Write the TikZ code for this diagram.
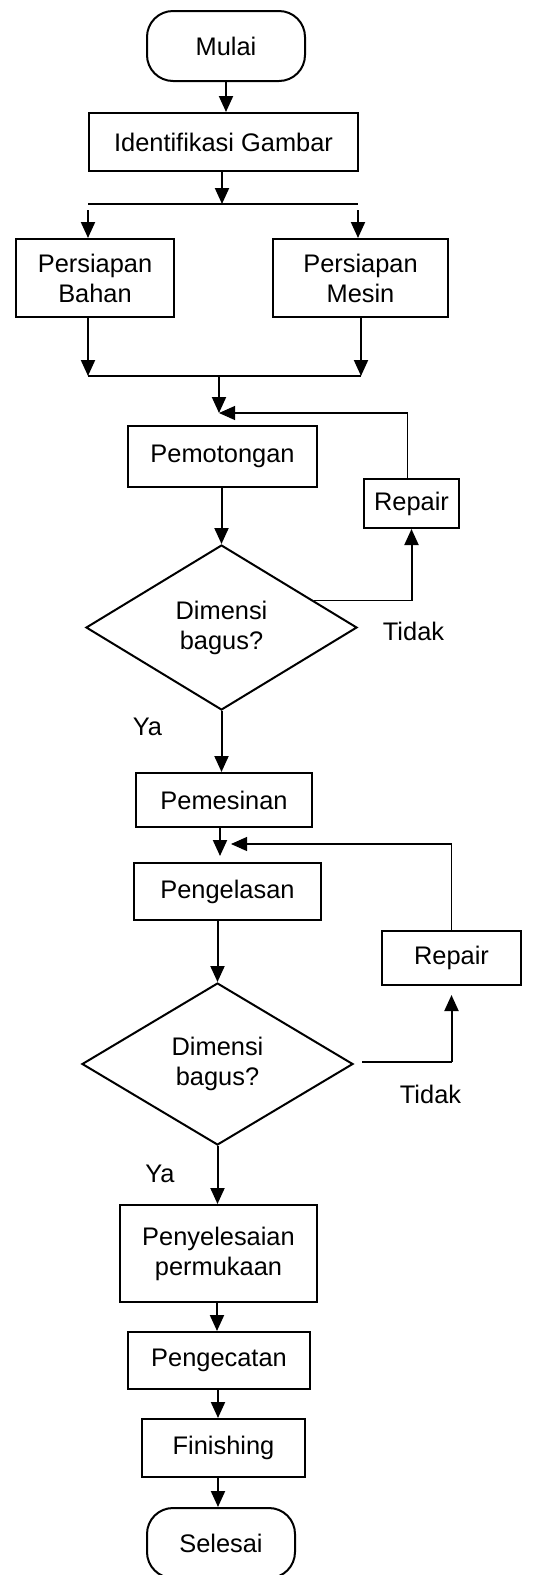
\documentclass[tikz,border=0pt]{standalone}
\usepackage{fontspec}
\setmainfont{Liberation Sans}
\usetikzlibrary{shapes.geometric,arrows.meta,calc}
\begin{document}
\begin{tikzpicture}[x=1pt,y=-1pt,
  every node/.style={font=\fontsize{25.4}{30}\selectfont, align=center, inner sep=0pt},
  box/.style={draw, line width=2pt, rectangle},
  term/.style={draw, line width=2pt, rectangle, rounded corners=26pt},
  dec/.style={draw, line width=2pt, diamond, aspect=1.64},
  arr/.style={line width=2pt, -{Triangle[length=16pt,width=14pt]}},
  thinarr/.style={line width=1.1pt, -{Triangle[length=16pt,width=14pt]}},
  thinline/.style={line width=1.1pt},
  lbl/.style={anchor=base}]
\useasboundingbox (0,0) rectangle (538,1575);
\node[term, minimum width=158pt, minimum height=70pt] (start) at (226,46) {Mulai};
\node[box, minimum width=269pt, minimum height=58pt] (ident) at (223.5,142) {Identifikasi Gambar};
\coordinate (sL) at (88,204);
\coordinate (sR) at (358,204);
\draw[arr] (start.south) -- (start.south |- ident.north);
\draw[arr] (ident.south -| 222,0) -- (222,204);
\draw[thinline] (sL) -- (sR);
\node[box, minimum width=158pt, minimum height=78pt] (bahan) at (95,278) {Persiapan\\Bahan};
\node[box, minimum width=175pt, minimum height=78pt] (mesin) at (360.5,278) {Persiapan\\Mesin};
\draw[arr] ([yshift=-6pt]sL) -- (sL |- bahan.north);
\draw[arr] ([yshift=-6pt]sR) -- (sR |- mesin.north);
\coordinate (jL) at (88,376);
\coordinate (jR) at (361,376);
\coordinate (jM) at (219,376);
\coordinate (m1) at (219,413);
\draw[arr] (bahan.south -| jL) -- (jL);
\draw[arr] (mesin.south -| jR) -- (jR);
\draw[thinline] (jL) -- (jR);
\draw[arr] (jM) -- (m1);
\node[box, minimum width=189pt, minimum height=61pt] (pemot) at (222.5,456.5) {Pemotongan};
\node[box, minimum width=95pt, minimum height=49pt] (rep1) at (411.5,503.5) {Repair};
\draw[thinarr] ([xshift=-4pt]rep1.north) |- (m1);
\node[dec, minimum width=271pt, minimum height=165pt] (d1) at (221.5,627.5) {Dimensi\\bagus?};
\draw[arr] (pemot.south -| d1.north) -- (d1.north);
\coordinate (c1) at ($(d1.north)!0.68!(d1.east)$);
\coordinate (c1r) at (c1 -| rep1.south);
\draw[thinline] (c1) -- (c1r);
\draw[arr] (c1r) -- (rep1.south);
\node[lbl] (tidak1) at (413.5,640) {Tidak};
\node[lbl] (ya1) at (147.5,735) {Ya};
\node[box, minimum width=176pt, minimum height=54pt] (pemes) at (224,800) {Pemesinan};
\draw[arr] (d1.south) -- (d1.south |- pemes.north);
\node[box, minimum width=187pt, minimum height=57pt] (pengel) at (227.5,891.5) {Pengelasan};
\node[box, minimum width=139pt, minimum height=54pt] (rep2) at (451.5,958) {Repair};
\coordinate (f2) at (231,844);
\draw[arr, shorten >=6pt] (pemes.south -| 220,0) -- (pengel.north -| 220,0);
\draw[thinarr] (rep2.north) |- (f2);
\node[dec, minimum width=271pt, minimum height=162pt] (d2) at (217.5,1064) {Dimensi\\bagus?};
\draw[arr] (pengel.south -| d2.north) -- (d2.north);
\coordinate (c2) at ([xshift=8pt,yshift=2pt]d2.east);
\coordinate (c2r) at (c2 -| rep2.south);
\draw[thinline] (c2) -- (c2r);
\draw[arr] (c2r) -- ([yshift=-9pt]rep2.south);
\node[lbl] (tidak2) at (430.5,1103) {Tidak};
\node[lbl] (ya2) at (160,1182) {Ya};
\node[box, minimum width=197pt, minimum height=97pt] (pny) at (218.5,1253.5) {Penyelesaian\\permukaan};
\draw[arr] (d2.south) -- (d2.south |- pny.north);
\node[box, minimum width=182pt, minimum height=57pt] (pcat) at (219,1360.5) {Pengecatan};
\draw[arr] (pny.south -| 217,0) -- (pcat.north -| 217,0);
\node[box, minimum width=163pt, minimum height=58pt] (fin) at (223.5,1448) {Finishing};
\draw[arr] (pcat.south -| 218,0) -- (fin.north -| 218,0);
\node[term, minimum width=148pt, minimum height=70pt] (sel) at (221,1543) {Selesai};
\draw[arr] (fin.south -| 218,0) -- (sel.north -| 218,0);
\end{tikzpicture}
\end{document}
